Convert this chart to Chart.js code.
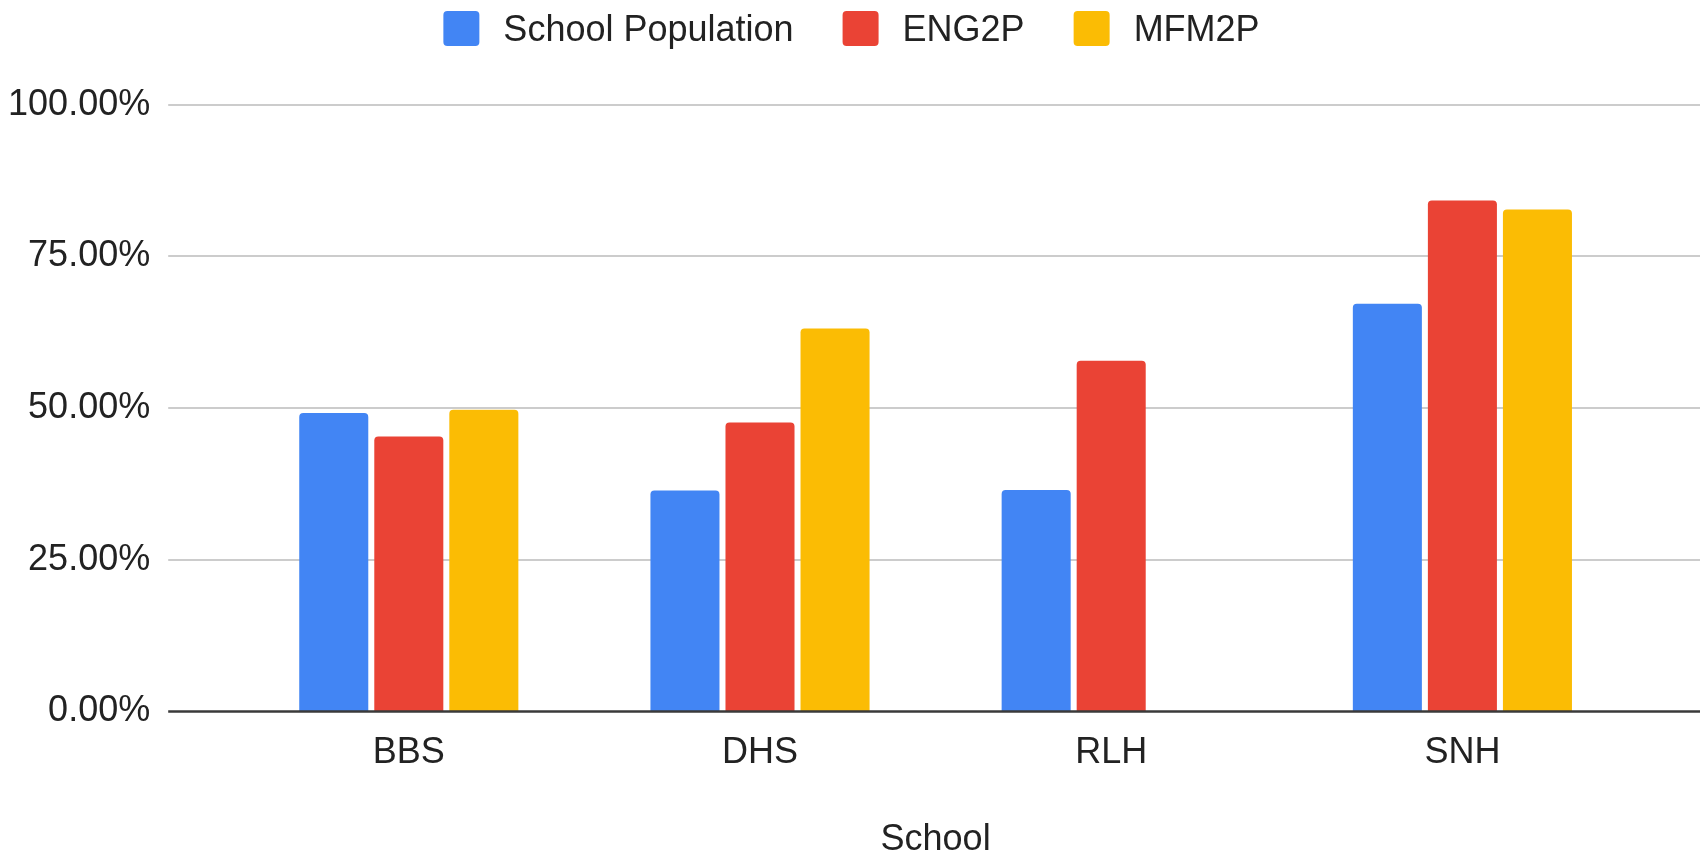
<!DOCTYPE html>
<html>
<head>
<meta charset="utf-8">
<title>School results</title>
<script src="https://cdn.jsdelivr.net/npm/chart.js@4.4.1/dist/chart.umd.min.js"></script>
<style>
  html, body { margin: 0; padding: 0; background: #ffffff; }
  canvas { display: block; }
</style>
</head>
<body>
<canvas id="chart" width="1703" height="853"></canvas>
<script>
// Categories and series (percent values)
const schools = ['BBS', 'DHS', 'RLH', 'SNH'];
const schoolPopulation = [49.2, 36.4, 36.5, 67.2];
const eng2p = [45.3, 47.6, 57.8, 84.2];
const mfm2p = [49.7, 63.1, null, 82.7];
const yTickValues = [0, 25, 50, 75, 100];

const seriesNames = ['School Population', 'ENG2P', 'MFM2P'];
const seriesColors = ['#4285F4', '#EA4335', '#FBBC04'];

const FONT_FAMILY = "'Liberation Sans', Arial, sans-serif";
const FONT_SIZE = 36;
const TEXT_COLOR = '#222222';

// Horizontal gridlines run a little past the category band on both sides
const gridExtension = { left: 65, right: 62 };

const extendedGrid = {
  id: 'extendedGrid',
  beforeDatasetsDraw(chart) {
    const { ctx, chartArea } = chart;
    const y = chart.scales.y;
    ctx.save();
    ctx.strokeStyle = '#cccccc';
    ctx.lineWidth = 2;
    y.ticks.forEach(t => {
      if (t.value === 0) return;
      const py = Math.round(y.getPixelForValue(t.value));
      ctx.beginPath();
      ctx.moveTo(chartArea.left - gridExtension.left, py);
      ctx.lineTo(chartArea.right + gridExtension.right, py);
      ctx.stroke();
    });
    ctx.restore();
  },
  afterDatasetsDraw(chart) {
    const { ctx, chartArea } = chart;
    const py = chart.scales.y.getPixelForValue(0);
    ctx.save();
    ctx.strokeStyle = '#3a3a3a';
    ctx.lineWidth = 2.5;
    ctx.beginPath();
    ctx.moveTo(chartArea.left - gridExtension.left, py);
    ctx.lineTo(chartArea.right + gridExtension.right, py);
    ctx.stroke();
    ctx.restore();
  }
};

// Legend row across the top, centred on the canvas
const topLegend = {
  id: 'topLegend',
  afterDraw(chart) {
    const ctx = chart.ctx;
    const boxW = 36, boxH = 35, textGap = 24, itemGap = 49, centerY = 28.5;
    ctx.save();
    ctx.font = FONT_SIZE + 'px ' + FONT_FAMILY;
    ctx.textBaseline = 'middle';
    ctx.textAlign = 'left';
    const items = chart.data.datasets.map(d => ({
      text: d.label,
      color: d.backgroundColor,
      width: ctx.measureText(d.label).width
    }));
    const total = items.reduce((s, it) => s + boxW + textGap + it.width, 0) + itemGap * (items.length - 1);
    let x = (chart.width - total) / 2;
    items.forEach(it => {
      ctx.fillStyle = it.color;
      ctx.beginPath();
      if (ctx.roundRect) ctx.roundRect(x, centerY - boxH / 2, boxW, boxH, 4);
      else ctx.rect(x, centerY - boxH / 2, boxW, boxH);
      ctx.fill();
      x += boxW + textGap;
      ctx.fillStyle = TEXT_COLOR;
      ctx.fillText(it.text, x, centerY + 3);
      x += it.width + itemGap;
    });
    ctx.restore();
  }
};

const seriesData = [schoolPopulation, eng2p, mfm2p];

new Chart(document.getElementById('chart'), {
  type: 'bar',
  data: {
    labels: schools,
    datasets: seriesNames.map((name, i) => ({
      label: name,
      data: seriesData[i],
      backgroundColor: seriesColors[i],
      borderRadius: 4,
      borderSkipped: 'start',
      categoryPercentage: 0.641,
      barPercentage: 0.92
    }))
  },
  options: {
    responsive: false,
    devicePixelRatio: 1,
    animation: false,
    layout: { padding: { top: 104, right: 65, bottom: 0, left: 0 } },
    plugins: {
      legend: { display: false },
      tooltip: { enabled: false }
    },
    scales: {
      x: {
        offset: true,
        grid: { display: false },
        border: { display: false },
        ticks: {
          color: TEXT_COLOR,
          font: { family: FONT_FAMILY, size: FONT_SIZE },
          padding: 12,
          maxRotation: 0
        },
        title: {
          display: true,
          text: 'School',
          color: TEXT_COLOR,
          font: { family: FONT_FAMILY, size: FONT_SIZE },
          padding: { top: 0, bottom: -9 }
        },
        afterFit(scale) { scale.height = 141.5; }
      },
      y: {
        min: 0,
        max: 100,
        afterBuildTicks(scale) { scale.ticks = yTickValues.map(v => ({ value: v })); },
        grid: { display: false, drawTicks: false },
        border: { display: false },
        ticks: {
          color: TEXT_COLOR,
          font: { family: FONT_FAMILY, size: FONT_SIZE },
          padding: 83,
          callback: v => v.toFixed(2) + '%'
        },
        afterFit(scale) { scale.width = 233.2; }
      }
    }
  },
  plugins: [extendedGrid, topLegend]
});
</script>
</body>
</html>
